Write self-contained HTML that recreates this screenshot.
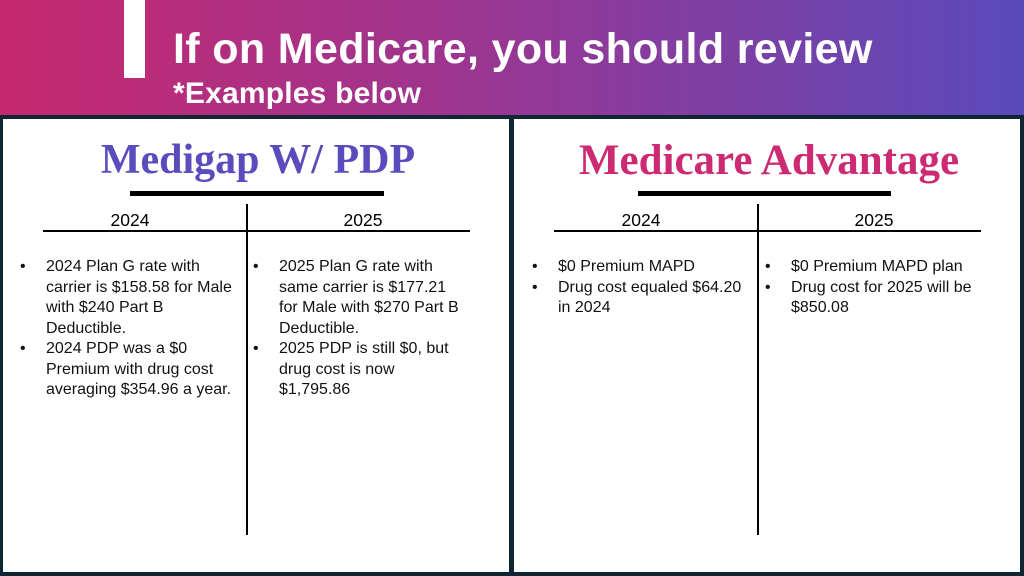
<!DOCTYPE html>
<html><head><meta charset="utf-8"><style>
*{margin:0;padding:0;box-sizing:border-box}
body{width:1024px;height:576px;background:#0f2733;position:relative;overflow:hidden;font-family:"Liberation Sans",sans-serif}
#hdr{position:absolute;left:0;top:0;width:1024px;height:115px;background:linear-gradient(90deg,#c6286f 0%,#9c3590 45%,#5a4bbb 100%)}
#bar{position:absolute;left:124px;top:0;width:21px;height:78px;background:#fff}
#t1{position:absolute;left:173px;top:25px;color:#fff;font-weight:bold;font-size:43px;letter-spacing:0.35px}
#t2{position:absolute;left:173px;top:77px;color:#fff;font-weight:bold;font-size:30px;letter-spacing:0.2px}
.panel{position:absolute;top:119px;height:453px;background:#fff}
.ttl{position:absolute;top:17px;width:100%;text-align:center;font-family:"Liberation Serif",serif;font-weight:bold;font-size:43px;letter-spacing:0px}
.ul{position:absolute;top:72px;height:5px;background:#000}
.hl{position:absolute;top:111px;height:2px;background:#000}
.vl{position:absolute;top:85px;width:2px;height:331px;background:#000}
.yr{position:absolute;top:91px;font-size:17.5px;color:#000;width:60px;text-align:center}
ul{position:absolute;top:138px;font-size:16px;line-height:20.5px;color:#111;list-style:none}
li{position:relative;padding-left:26px}
li:before{content:"•";position:absolute;left:0}
</style></head><body>
<div id="hdr"></div>
<div id="bar"></div>
<div id="t1">If on Medicare, you should review</div>
<div id="t2">*Examples below</div>

<div class="panel" style="left:3px;width:506px">
<div class="ttl" style="color:#5b4cbe;font-size:42px;left:2px">Medigap W/ PDP</div>
<div class="ul" style="left:127px;width:254px"></div>
<div class="hl" style="left:40px;width:427px"></div>
<div class="vl" style="left:243px"></div>
<div class="yr" style="left:97px">2024</div>
<div class="yr" style="left:330px">2025</div>
<ul style="left:17px;width:222px">
<li>2024 Plan G rate with carrier is $158.58 for Male with $240 Part B Deductible.</li>
<li>2024 PDP was a $0 Premium with drug cost averaging $354.96 a year.</li></ul>
<ul style="left:250px;width:212px">
<li>2025 Plan G rate with same carrier is $177.21 for Male with $270 Part B Deductible.</li>
<li>2025 PDP is still $0, but drug cost is now $1,795.86</li></ul>
</div>

<div class="panel" style="left:514px;width:506px">
<div class="ttl" style="color:#cc2a72;left:2px">Medicare Advantage</div>
<div class="ul" style="left:124px;width:253px"></div>
<div class="hl" style="left:40px;width:427px"></div>
<div class="vl" style="left:243px"></div>
<div class="yr" style="left:97px">2024</div>
<div class="yr" style="left:330px">2025</div>
<ul style="left:18px;width:222px">
<li>$0 Premium MAPD</li>
<li>Drug cost equaled $64.20 in 2024</li></ul>
<ul style="left:251px;width:222px">
<li>$0 Premium MAPD plan</li>
<li>Drug cost for 2025 will be $850.08</li></ul>
</div>
</body></html>
